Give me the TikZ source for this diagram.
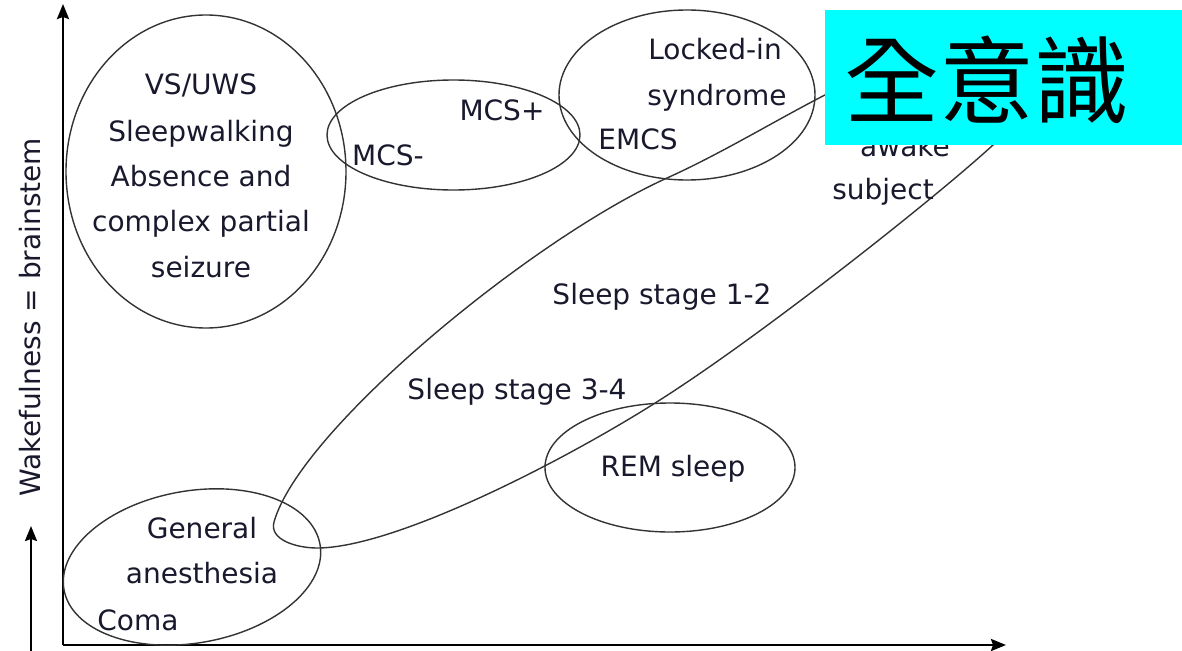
\documentclass[tikz,border=0pt]{standalone}
\usepackage{fontspec}
\setmainfont{DejaVu Sans}
\newfontfamily\cjkfont{Noto Sans CJK TC}
\usetikzlibrary{arrows.meta,shapes.geometric}
\definecolor{bannercyan}{RGB}{0,255,255}
\definecolor{inkdark}{RGB}{25,25,45}
\begin{document}
\begin{tikzpicture}[x=1pt,y=-1pt,
  region/.style={ellipse, draw=black!80, line width=1.4pt, inner sep=0pt, outer sep=0pt},
  lbl/.style={font=\fontsize{28}{34}\selectfont, text=inkdark, inner sep=0pt,
              text height=20pt, text depth=0pt},
  axis/.style={line width=2.5pt, -{Stealth[length=15pt,width=12pt,inset=2pt]}},
  curve/.style={draw=black!80, line width=1.4pt}]

\useasboundingbox (0,0) rectangle (1182,650);

% axes
\coordinate (origin) at (63,645);
\coordinate (ytip) at (63,4);
\coordinate (xtip) at (1006,645);
\draw[axis] (origin) -- (ytip);
\draw[axis] (origin) -- (xtip);

% wakefulness arrow and label
\coordinate (wfoot) at (31,652);
\coordinate (whead) at (31,526);
\draw[axis, line width=2.2pt] (wfoot) -- (whead);
\node[lbl, rotate=90] (wake) at (30,317) {Wakefulness = brainstem};

% sleep band: elongated loop from anesthesia up to the awake state
\draw[curve]
  (274,522) .. controls (300,430) and (530,240) .. (667,178)
            .. controls (747,142) and (830,85) .. (900,62)
            .. controls (975,28) and (1045,98) .. (993,145)
            .. controls (933,200) and (763,334) .. (663,398)
            .. controls (573,456) and (397,548) .. (317,548)
            .. controls (297,548) and (269,540) .. (274,522);

% state regions
\node[region, minimum width=280pt, minimum height=313pt] (vs) at (206,171.5) {};
\node[region, minimum width=253pt, minimum height=110pt] (mcs) at (453.5,135) {};
\node[region, minimum width=256pt, minimum height=170pt] (lis) at (687,95) {};
\node[region, minimum width=250pt, minimum height=129pt] (rem) at (670,467.5) {};
\node[region, minimum width=260pt, minimum height=152pt, rotate=10] (ga) at (192,567) {};

% labels
\node[lbl] (vs1) at (201,85) {VS/UWS};
\node[lbl] (vs2) at (201,131) {Sleepwalking};
\node[lbl] (vs3) at (201,176) {Absence and};
\node[lbl] (vs4) at (201,221) {complex partial};
\node[lbl] (vs5) at (201,267) {seizure};

\node[lbl] (mcsp) at (502,111) {MCS+};
\node[lbl] (mcsm) at (388,155) {MCS-};

\node[lbl] (lis1) at (715,50) {Locked-in};
\node[lbl] (lis2) at (717,96) {syndrome};
\node[lbl] (emcs) at (638,139) {EMCS};

\node[lbl] (awake) at (905,146) {awake};
\node[lbl] (subj) at (883,189) {subject};

\node[lbl] (s12) at (662,294) {Sleep stage 1-2};
\node[lbl] (s34) at (517,389) {Sleep stage 3-4};
\node[lbl] (remt) at (673,466) {REM sleep};

\node[lbl] (ga1) at (202,528) {General};
\node[lbl] (ga2) at (202,573) {anesthesia};
\node[lbl] (coma) at (138,620) {Coma};

% title banner
\node[fill=bannercyan, anchor=north west, inner sep=0pt, minimum width=357pt,
      minimum height=135pt] (banner) at (825,10) {};
\node[font=\cjkfont\fontsize{95}{95}\selectfont, inner sep=0pt] (full) at (987,80) {全意識};
\end{tikzpicture}
\end{document}
